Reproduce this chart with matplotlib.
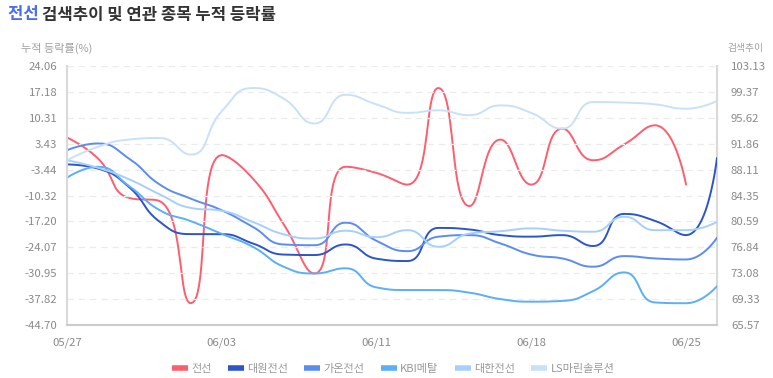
import numpy as np
import matplotlib
matplotlib.use("Agg")
import matplotlib.pyplot as plt
from matplotlib.lines import Line2D

plt.rcParams['font.family'] = ['Noto Sans CJK KR', 'DejaVu Sans']

# ---------------- data ----------------
dates = ["05/27", "05/28", "05/29", "05/30", "05/31", "06/03", "06/04", "06/05",
         "06/07", "06/10", "06/11", "06/12", "06/13", "06/14", "06/17", "06/18",
         "06/19", "06/20", "06/21", "06/24", "06/25", "06/26"]
tick_dates = ["05/27", "06/03", "06/11", "06/18", "06/25"]

# search trend (right axis)
search_jeonseon = [92.76, 89.72, 84.01, 83.52, 68.73, 90.21, 86.83, 80.18, 73.04, 88.52,
                   87.62, 85.93, 99.94, 82.81, 92.46, 85.93, 94.04, 89.46, 91.75, 94.53,
                   85.93]
# cumulative returns (left axis)
daewon = [-2.07, -3.17, -8.05, -17.33, -20.57, -20.57, -23.04, -26.00, -26.13, -23.32,
          -27.10, -27.72, -18.92, -19.33, -20.84, -21.25, -20.84, -23.73, -15.20, -17.06,
          -20.84, -0.35]
gaon = [1.71, 3.50, -0.49, -7.43, -11.15, -14.24, -18.64, -23.32, -23.52, -17.54,
        -22.35, -25.10, -21.25, -20.84, -23.04, -26.00, -27.03, -29.23, -26.41, -27.03,
        -27.30, -21.53]
kbi = [-5.58, -2.69, -7.78, -14.24, -17.13, -20.50, -23.93, -29.23, -31.02, -29.64,
       -34.73, -35.42, -35.42, -36.11, -37.82, -38.51, -38.31, -35.69, -30.74, -38.72,
       -38.92, -34.39]
taihan = [-0.97, -2.96, -5.99, -10.04, -13.62, -14.38, -17.33, -20.63, -21.73, -19.67,
          -21.39, -19.53, -23.93, -20.43, -19.81, -19.05, -19.67, -19.95, -15.96, -19.53,
          -19.53, -17.33]
lsmarine = [-0.97, 2.61, 4.53, 4.94, 0.54, 12.03, 18.22, 15.40, 8.80, 16.43,
            13.88, 11.61, 12.30, 11.00, 13.61, 11.61, 7.42, 14.50, 14.36, 13.88,
            12.71, 14.78]

left_ticks = [24.06, 17.18, 10.31, 3.43, -3.44, -10.32, -17.20, -24.07, -30.95, -37.82, -44.70]
right_ticks = [103.13, 99.37, 95.62, 91.86, 88.11, 84.35, 80.59, 76.84, 73.08, 69.33, 65.57]

names = ["전선", "대원전선", "가온전선", "KBI메탈", "대한전선", "LS마린솔루션"]
colors = ["#ff5d6e", "#2c55c9", "#5b8cf3", "#5aaefa", "#a6d0fb", "#c9e1f8"]

# ---------------- figure ----------------
W, H = 773, 378
fig = plt.figure(figsize=(W / 100, H / 100), dpi=100)
ax = fig.add_axes([67 / W, 1 - 325 / H, (717 - 67) / W, (325 - 66) / H])
ax2 = ax.twinx()

ax.set_xlim(0, len(dates) - 1)
ax.set_ylim(left_ticks[-1], left_ticks[0])
ax2.set_ylim(right_ticks[-1], right_ticks[0])

tick_col = "#8a8a8a"
ax.set_yticks(left_ticks)
ax.set_yticklabels([f"{v:.2f}" for v in left_ticks])
ax2.set_yticks(right_ticks)
ax2.set_yticklabels([f"{v:.2f}" for v in right_ticks])
ax.set_xticks([dates.index(d) for d in tick_dates])
ax.set_xticklabels(tick_dates)

ax.tick_params(axis='y', length=0, pad=7, labelsize=8.2, labelcolor=tick_col)
ax2.tick_params(axis='y', length=0, pad=10, labelsize=8.2, labelcolor=tick_col)
ax.tick_params(axis='x', length=0, pad=9, labelsize=8.2, labelcolor=tick_col)

for a in (ax, ax2):
    for s in a.spines.values():
        s.set_visible(False)
ax.spines['left'].set_visible(True)
ax.spines['left'].set_color('#d9d9d9')
ax.spines['left'].set_linewidth(1.5)
ax.spines['bottom'].set_visible(True)
ax.spines['bottom'].set_color('#cccccc')
ax.spines['bottom'].set_linewidth(1.5)
ax2.spines['right'].set_visible(True)
ax2.spines['right'].set_color('#d9d9d9')
ax2.spines['right'].set_linewidth(1.5)

for v in left_ticks[:-1]:
    ax.axhline(v, color='#ebebeb', lw=0.9, ls=(0, (5, 4)), zorder=0)

fig.canvas.draw()


def echarts_smooth(a, xs, ys, smooth=0.5, nseg=24):
    pts = a.transData.transform(np.column_stack([xs, ys]))
    n = len(pts)
    out = [pts[0]]
    cp0 = pts[0].copy()
    for i in range(1, n):
        x, y = pts[i]
        px, py = pts[i - 1]
        if i == n - 1:
            cp1 = np.array([x, y])
            ncp0 = None
        else:
            nx, ny = pts[i + 1]
            vx, vy = nx - px, ny - py
            lp = np.hypot(x - px, y - py)
            ln = np.hypot(nx - x, ny - y)
            r = ln / (ln + lp)
            ncx = x + vx * smooth * r
            ncy = y + vy * smooth * r
            ncx = min(ncx, max(nx, x)); ncy = min(ncy, max(ny, y))
            ncx = max(ncx, min(nx, x)); ncy = max(ncy, min(ny, y))
            vx, vy = ncx - x, ncy - y
            c1x = x - vx * lp / ln
            c1y = y - vy * lp / ln
            c1x = min(c1x, max(px, x)); c1y = min(c1y, max(py, y))
            c1x = max(c1x, min(px, x)); c1y = max(c1y, min(py, y))
            vx, vy = x - c1x, y - c1y
            ncx = x + vx * ln / lp
            ncy = y + vy * ln / lp
            cp1 = np.array([c1x, c1y])
            ncp0 = np.array([ncx, ncy])
        p0 = pts[i - 1]
        p3 = pts[i]
        t = np.linspace(0, 1, nseg + 1)[1:, None]
        seg = ((1 - t) ** 3) * p0 + 3 * ((1 - t) ** 2) * t * cp0 + 3 * (1 - t) * t ** 2 * cp1 + t ** 3 * p3
        out.extend(seg)
        if ncp0 is not None:
            cp0 = ncp0
    out = np.array(out)
    d = a.transData.inverted().transform(out)
    return d[:, 0], d[:, 1]


left_series = [daewon, gaon, kbi, taihan, lsmarine]
x_red = np.arange(len(search_jeonseon))
sx, sy = echarts_smooth(ax2, x_red, search_jeonseon)
ax2.plot(sx, sy, color=colors[0], lw=1.4, solid_capstyle='round', zorder=3)
ax.set_zorder(ax2.get_zorder() + 1)
ax.patch.set_visible(False)
for vals, col in zip(left_series, colors[1:]):
    xs = np.arange(len(vals))
    sx, sy = echarts_smooth(ax, xs, vals)
    ax.plot(sx, sy, color=col, lw=1.4, solid_capstyle='round', zorder=2)

# title and axis names
t1 = fig.text(8 / W, 1 - 14.5 / H, "전선 ", color="#4a6cf0", fontsize=12, fontweight='bold',
              va='center', ha='left')
fig.canvas.draw()
bb = t1.get_window_extent(fig.canvas.get_renderer())
fig.text(bb.x1 / W, 1 - 14.5 / H, "검색추이 및 연관 종목 누적 등락률", color="#333333", fontsize=12,
         fontweight='bold', va='center', ha='left')
fig.text(21 / W, 1 - 48.5 / H, "누적 등락률(%)", color="#a0a0a0", fontsize=8, va='center', ha='left')
fig.text(727 / W, 1 - 48 / H, "검색추이", color="#a0a0a0", fontsize=7, va='center', ha='left')

handles = [Line2D([0], [0], color=c, lw=4, solid_capstyle='butt') for c in colors]
fig.legend(handles, names, loc='center', bbox_to_anchor=(393 / W, 1 - 369 / H), ncol=6,
           frameon=False, fontsize=8, handlelength=1.45, handletextpad=0.3, columnspacing=1.45,
           labelcolor="#999999")

fig.savefig("out.png", dpi=100)
